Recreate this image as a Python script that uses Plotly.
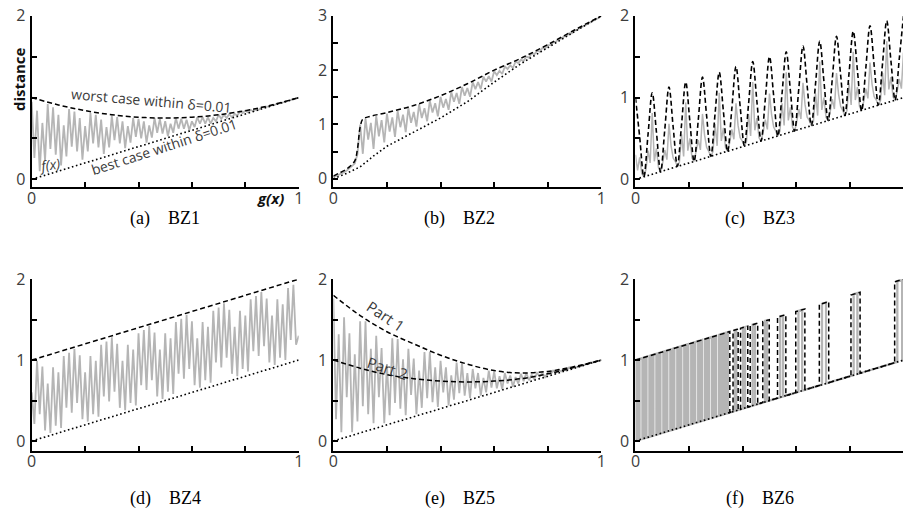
import plotly.graph_objects as go

# ---------------- data ----------------
grid101 = [i / 100 for i in range(101)]
env_x = [0.0, 0.1, 0.2, 0.3, 0.4, 0.5, 0.6, 0.7, 0.8, 0.9, 1.0]
line_x = [0.0, 1.0]

# (a) BZ1
bz1_worst = [1.00, 0.91, 0.84, 0.79, 0.76, 0.75, 0.76, 0.79, 0.84, 0.91, 1.00]
bz1_best = [0.0, 1.0]
bz1_f = [0.95, 0.26, 0.84, 0.10, 0.69, 0.23, 0.92, 0.37, 0.88, 0.30,
         0.79, 0.17, 0.66, 0.28, 0.86, 0.40, 0.83, 0.34, 0.75, 0.24,
         0.65, 0.34, 0.81, 0.44, 0.79, 0.39, 0.73, 0.31, 0.64, 0.39,
         0.78, 0.48, 0.76, 0.44, 0.71, 0.38, 0.65, 0.45, 0.75, 0.52,
         0.74, 0.50, 0.71, 0.45, 0.66, 0.51, 0.75, 0.57, 0.74, 0.56,
         0.71, 0.53, 0.68, 0.57, 0.75, 0.62, 0.74, 0.62, 0.73, 0.60,
         0.71, 0.64, 0.76, 0.68, 0.76, 0.68, 0.76, 0.68, 0.75, 0.71,
         0.79, 0.74, 0.79, 0.75, 0.80, 0.76, 0.80, 0.78, 0.83, 0.81,
         0.84, 0.82, 0.85, 0.83, 0.86, 0.85, 0.88, 0.88, 0.89, 0.89,
         0.91, 0.91, 0.93, 0.93, 0.94, 0.95, 0.96, 0.97, 0.98, 0.99, 1.00]

# (b) BZ2
bz2_worst_x = [0, 0.02, 0.04, 0.06, 0.08, 0.09, 0.10, 0.11, 0.13, 0.2, 0.3, 0.4, 0.5, 0.6, 0.7, 0.8, 0.9, 1.0]
bz2_worst = [0.05, 0.10, 0.15, 0.22, 0.33, 0.55, 0.95, 1.10, 1.14, 1.22, 1.35, 1.53, 1.75, 2.00, 2.22, 2.47, 2.74, 3.00]
bz2_best_x = [0, 0.05, 0.1, 0.15, 0.2, 0.3, 0.4, 0.5, 0.6, 0.7, 0.8, 0.9, 1.0]
bz2_best = [0.0, 0.10, 0.22, 0.42, 0.60, 0.86, 1.12, 1.42, 1.78, 2.12, 2.42, 2.71, 3.00]
bz2_f = [0.03, 0.05, 0.07, 0.09, 0.12, 0.15, 0.19, 0.23, 0.28, 0.45,
         1.00, 0.46, 1.11, 0.72, 1.03, 0.55, 1.16, 0.78, 1.08, 0.67,
         1.20, 0.87, 1.13, 0.77, 1.25, 0.95, 1.18, 0.86, 1.30, 1.03,
         1.23, 0.96, 1.37, 1.12, 1.30, 1.06, 1.44, 1.22, 1.39, 1.15,
         1.51, 1.31, 1.47, 1.27, 1.60, 1.42, 1.58, 1.38, 1.69, 1.53,
         1.67, 1.51, 1.78, 1.65, 1.78, 1.65, 1.88, 1.79, 1.89, 1.79,
         1.98, 1.91, 1.99, 1.93, 2.07, 2.02, 2.09, 2.04, 2.16, 2.13,
         2.19, 2.17, 2.25, 2.23, 2.31, 2.29, 2.36, 2.34, 2.41, 2.40,
         2.46, 2.46, 2.51, 2.52, 2.57, 2.58, 2.62, 2.63, 2.68, 2.68,
         2.73, 2.74, 2.78, 2.80, 2.83, 2.85, 2.89, 2.91, 2.94, 2.96, 3.00]

# (c) BZ3
bz3_worst_x = [k / 64 for k in range(65)]
bz3_worst = [1.00, 0.52, 0.03, 0.55, 1.06, 0.58, 0.09, 0.61, 1.13, 0.64, 0.16, 0.67,
             1.19, 0.70, 0.22, 0.73, 1.25, 0.77, 0.28, 0.80, 1.31, 0.83, 0.34, 0.86,
             1.38, 0.89, 0.41, 0.92, 1.44, 0.95, 0.47, 0.98, 1.50, 1.02, 0.53, 1.05,
             1.56, 1.08, 0.59, 1.11, 1.63, 1.14, 0.66, 1.17, 1.69, 1.20, 0.72, 1.23,
             1.75, 1.27, 0.78, 1.30, 1.81, 1.33, 0.84, 1.36, 1.88, 1.39, 0.91, 1.42,
             1.94, 1.45, 0.97, 1.48, 2.00]
bz3_best = [0.0, 1.0]
bz3_f_x = [k / 128 for k in range(129)]
bz3_f = [0.30, 0.11, 0.27, 0.07, 0.03, 0.12, 0.35, 0.20,
         0.81, 0.22, 0.38, 0.14, 0.09, 0.20, 0.36, 0.24,
         0.68, 0.41, 0.26, 0.22, 0.16, 0.21, 0.55, 0.28,
         0.94, 0.35, 0.50, 0.26, 0.22, 0.33, 0.48, 0.36,
         0.80, 0.54, 0.39, 0.34, 0.28, 0.34, 0.68, 0.41,
         1.06, 0.47, 0.63, 0.39, 0.34, 0.45, 0.61, 0.49,
         0.93, 0.66, 0.51, 0.47, 0.41, 0.46, 0.80, 0.53,
         1.19, 0.60, 0.75, 0.51, 0.47, 0.58, 0.73, 0.61,
         1.05, 0.79, 0.64, 0.59, 0.53, 0.59, 0.93, 0.66,
         1.31, 0.72, 0.88, 0.64, 0.59, 0.70, 0.86, 0.74,
         1.18, 0.91, 0.76, 0.72, 0.66, 0.71, 1.05, 0.78,
         1.44, 0.85, 1.00, 0.76, 0.72, 0.83, 0.98, 0.86,
         1.30, 1.04, 0.89, 0.84, 0.78, 0.84, 1.18, 0.91,
         1.56, 0.97, 1.13, 0.89, 0.84, 0.95, 1.11, 0.99,
         1.43, 1.16, 1.01, 0.97, 0.91, 0.96, 1.30, 1.03,
         1.69, 1.10, 1.25, 1.01, 0.97, 1.08, 1.23, 1.11,
         1.55]

# (d) BZ4
bz4_worst = [1.0, 2.0]
bz4_best = [0.0, 1.0]
bz4_f = [0.60, 0.21, 0.99, 0.33, 0.92, 0.13, 0.71, 0.10, 0.91, 0.19,
         0.85, 0.16, 1.05, 0.41, 1.09, 0.35, 1.14, 0.47, 1.06, 0.27,
         0.85, 0.24, 1.05, 0.33, 0.99, 0.30, 1.19, 0.55, 1.23, 0.49,
         1.28, 0.61, 1.20, 0.41, 0.99, 0.38, 1.19, 0.47, 1.13, 0.44,
         1.33, 0.69, 1.37, 0.63, 1.42, 0.75, 1.34, 0.55, 1.13, 0.52,
         1.33, 0.61, 1.27, 0.58, 1.47, 0.83, 1.51, 0.77, 1.56, 0.89,
         1.48, 0.69, 1.27, 0.66, 1.47, 0.75, 1.41, 0.72, 1.61, 0.97,
         1.65, 0.91, 1.70, 1.03, 1.62, 0.83, 1.41, 0.80, 1.61, 0.89,
         1.55, 0.86, 1.75, 1.11, 1.79, 1.05, 1.84, 1.17, 1.76, 0.97,
         1.55, 0.94, 1.75, 1.03, 1.69, 1.00, 1.89, 1.25, 1.93, 1.19, 1.30]

# (e) BZ5
bz5_part1 = [1.80, 1.55, 1.35, 1.20, 1.06, 0.95, 0.87, 0.84, 0.86, 0.92, 1.00]
bz5_part2 = [1.00, 0.90, 0.82, 0.77, 0.74, 0.73, 0.74, 0.77, 0.83, 0.91, 1.00]
bz5_best = [0.0, 1.0]
bz5_f = [1.76, 0.27, 1.32, 0.11, 1.53, 0.54, 1.33, 0.11, 1.07, 0.24,
         1.48, 0.43, 1.48, 0.33, 1.14, 0.22, 1.30, 0.54, 1.15, 0.22,
         0.95, 0.32, 1.27, 0.47, 1.26, 0.40, 1.01, 0.32, 1.14, 0.57,
         1.02, 0.33, 0.87, 0.41, 1.10, 0.53, 1.10, 0.48, 0.91, 0.42,
         0.99, 0.60, 0.91, 0.44, 0.81, 0.51, 0.97, 0.59, 0.96, 0.56,
         0.84, 0.53, 0.89, 0.65, 0.84, 0.56, 0.78, 0.60, 0.87, 0.66,
         0.86, 0.65, 0.80, 0.64, 0.84, 0.71, 0.81, 0.67, 0.79, 0.71,
         0.83, 0.74, 0.84, 0.75, 0.82, 0.76, 0.84, 0.80, 0.84, 0.79,
         0.84, 0.82, 0.87, 0.84, 0.88, 0.86, 0.89, 0.87, 0.91, 0.90,
         0.92, 0.91, 0.93, 0.93, 0.95, 0.95, 0.97, 0.97, 0.98, 0.99, 1.00]

# (f) BZ6
bz6_worst_x = [0.0, 0.352, 0.352, 0.364, 0.364, 0.383, 0.383, 0.392, 0.392, 0.419, 0.419,
               0.428, 0.428, 0.456, 0.456, 0.475, 0.475, 0.499, 0.499, 0.530, 0.530,
               0.561, 0.561, 0.598, 0.598, 0.632, 0.632, 0.686, 0.686, 0.721, 0.721,
               0.804, 0.804, 0.838, 0.838, 0.967, 0.967, 1.0]
bz6_worst = [1.0, 1.352, 0.352, 0.364, 1.364, 1.383, 0.383, 0.392, 1.392, 1.419, 0.419,
             0.428, 1.428, 1.456, 0.456, 0.475, 1.475, 1.499, 0.499, 0.530, 1.530,
             1.561, 0.561, 0.598, 1.598, 1.632, 0.632, 0.686, 1.686, 1.721, 0.721,
             0.804, 1.804, 1.838, 0.838, 0.967, 1.967, 2.0]
bz6_best = [0.0, 1.0]
bz6_f_x = [0.000, 0.000, 0.008, 0.008, 0.015, 0.015, 0.026, 0.026, 0.034, 0.034,
           0.041, 0.041, 0.052, 0.052, 0.060, 0.060, 0.067, 0.067, 0.078, 0.078,
           0.086, 0.086, 0.093, 0.093, 0.104, 0.104, 0.112, 0.112, 0.119, 0.119,
           0.130, 0.130, 0.138, 0.138, 0.145, 0.145, 0.156, 0.156, 0.164, 0.164,
           0.171, 0.171, 0.182, 0.182, 0.190, 0.190, 0.197, 0.197, 0.208, 0.208,
           0.216, 0.216, 0.223, 0.223, 0.234, 0.234, 0.242, 0.242, 0.249, 0.249,
           0.260, 0.260, 0.268, 0.268, 0.275, 0.275, 0.286, 0.286, 0.294, 0.294,
           0.301, 0.301, 0.312, 0.312, 0.320, 0.320, 0.327, 0.327, 0.333, 0.333,
           0.340, 0.340, 0.345, 0.345, 0.371, 0.371, 0.376, 0.376,
           0.401, 0.401, 0.409, 0.409, 0.437, 0.437, 0.446, 0.446,
           0.483, 0.483, 0.491, 0.491, 0.540, 0.540, 0.551, 0.551,
           0.608, 0.608, 0.622, 0.622, 0.696, 0.696, 0.711, 0.711,
           0.814, 0.814, 0.828, 0.828, 0.977, 0.977, 0.995, 0.995, 1.000]
bz6_f = [0.000, 1.000, 1.008, 0.008, 0.015, 1.015, 1.026, 0.026, 0.034, 1.034,
         1.041, 0.041, 0.052, 1.052, 1.060, 0.060, 0.067, 1.067, 1.078, 0.078,
         0.086, 1.086, 1.093, 0.093, 0.104, 1.104, 1.112, 0.112, 0.119, 1.119,
         1.130, 0.130, 0.138, 1.138, 1.145, 0.145, 0.156, 1.156, 1.164, 0.164,
         0.171, 1.171, 1.182, 0.182, 0.190, 1.190, 1.197, 0.197, 0.208, 1.208,
         1.216, 0.216, 0.223, 1.223, 1.234, 0.234, 0.242, 1.242, 1.249, 0.249,
         0.260, 1.260, 1.268, 0.268, 0.275, 1.275, 1.286, 0.286, 0.294, 1.294,
         1.301, 0.301, 0.312, 1.312, 1.320, 0.320, 0.327, 1.327, 1.333, 0.333,
         0.340, 1.340, 1.345, 0.345, 0.371, 1.371, 1.376, 0.376,
         0.401, 1.401, 1.409, 0.409, 0.437, 1.437, 1.446, 0.446,
         0.483, 1.483, 1.491, 0.491, 0.540, 1.540, 1.551, 0.551,
         0.608, 1.608, 1.622, 0.622, 0.696, 1.696, 1.711, 0.711,
         0.814, 1.814, 1.828, 0.828, 0.977, 1.977, 1.995, 0.995, 1.000]

NB = "\u00a0" * 4
captions = ["(a)" + NB + "BZ1", "(b)" + NB + "BZ2", "(c)" + NB + "BZ3",
            "(d)" + NB + "BZ4", "(e)" + NB + "BZ5", "(f)" + NB + "BZ6"]
y_ticks_2 = [0, 0.5, 1, 1.5, 2]
y_ticks_3 = [0, 0.5, 1, 1.5, 2, 2.5, 3]
x_ticks = [0, 0.2, 0.4, 0.6, 0.8, 1.0]

# ---------------- styling ----------------
W, H = 908, 520
GRAY = "#b5b5b5"
DASH = "5px,3px"
DOT = "1.6px,2.6px"


def px(x):
    return x / W


def py(y):
    return 1 - y / H


fig = go.Figure()


def gray(x, y, n, width=1.8):
    fig.add_trace(go.Scatter(x=x, y=y, mode="lines", xaxis="x%d" % n, yaxis="y%d" % n,
                             line=dict(color=GRAY, width=width), hoverinfo="skip"))


def dashed(x, y, n, spline=False, width=1.5):
    fig.add_trace(go.Scatter(x=x, y=y, mode="lines", xaxis="x%d" % n, yaxis="y%d" % n,
                             line=dict(color="black", width=width, dash=DASH,
                                       shape="spline" if spline else "linear", smoothing=1.0),
                             hoverinfo="skip"))


def dotted(x, y, n):
    fig.add_trace(go.Scatter(x=x, y=y, mode="lines", xaxis="x%d" % n, yaxis="y%d" % n,
                             line=dict(color="black", width=1.6, dash=DOT), hoverinfo="skip"))


# (a)
gray(grid101, bz1_f, 1)
dashed(env_x, bz1_worst, 1, spline=True)
dotted(line_x, bz1_best, 1)
# (b)
gray(grid101, bz2_f, 2)
dashed(bz2_worst_x, bz2_worst, 2, spline=True)
dotted(bz2_best_x, bz2_best, 2)
# (c)
gray(bz3_f_x, bz3_f, 3, width=1.5)
dashed(bz3_worst_x, bz3_worst, 3, spline=True, width=1.6)
dotted(line_x, bz3_best, 3)
# (d)
gray(grid101, bz4_f, 4)
dashed(line_x, bz4_worst, 4)
dotted(line_x, bz4_best, 4)
# (e)
gray(grid101, bz5_f, 5)
dashed(env_x, bz5_part1, 5, spline=True)
dashed(env_x, bz5_part2, 5, spline=True)
dotted(line_x, bz5_best, 5)
# (f)
gray(bz6_f_x, bz6_f, 6, width=2.3)
dashed(bz6_worst_x, bz6_worst, 6)
dotted(line_x, bz6_best, 6)

tickfont = dict(family="Open Sans", size=16, color="#3c3c3c")
axis_common = dict(showline=True, linecolor="black", linewidth=2, ticks="inside", ticklen=5,
                   tickwidth=1.5, tickcolor="black", showgrid=False, zeroline=False,
                   tickfont=tickfont, fixedrange=True)

col_dom = [[px(27), px(297)], [px(332), px(603)], [px(637.5), 1.0]]
col_rng = [[0, 1], [0, 1], [0, (W - 637.5) / 271]]
row_dom = [[py(181), py(5)], [py(451), py(275)]]

layout = dict(width=W, height=H, margin=dict(l=0, r=0, t=0, b=0), showlegend=False,
              paper_bgcolor="white", plot_bgcolor="white")
for n in range(1, 7):
    r = 0 if n <= 3 else 1
    c = (n - 1) % 3
    xa = dict(axis_common, domain=col_dom[c], range=col_rng[c], anchor="y%d" % n,
              tickvals=x_ticks, ticktext=["0", "", "", "", "", "1"], ticklabelstandoff=-5)
    if n == 2:
        yr = [-0.16, 3.0]
        tv = y_ticks_3
        tt = ["0", "", "1", "", "2", "", "3"]
    else:
        yr = [-0.1, 2.0] if r == 0 else [-0.12, 2.0]
        tv = y_ticks_2
        tt = ["0", "", "", "", "2"] if n == 1 else ["0", "", "1", "", "2"]
    ya = dict(axis_common, domain=row_dom[r], range=yr, anchor="x%d" % n,
              tickvals=tv, ticktext=tt, ticklabelstandoff=1)
    layout["xaxis" if n == 1 else "xaxis%d" % n] = xa
    layout["yaxis" if n == 1 else "yaxis%d" % n] = ya

fig.update_layout(**layout)

ann = []
cap_pos = [(162, 213), (460, 213), (763, 213), (162, 500), (460, 500), (763, 500)]
for text, (cx, cy) in zip(captions, cap_pos):
    ann.append(dict(x=px(cx), y=py(cy), xref="paper", yref="paper", text=text, showarrow=False,
                    xanchor="center", yanchor="middle",
                    font=dict(family="Liberation Serif", size=18, color="black")))

lab = dict(family="Open Sans", size=14, color="#3a3a3a")
extra = [
    dict(x=px(14), y=py(70), text="<b>distance</b>", textangle=-90,
         font=dict(family="Open Sans", size=15, color="#111111")),
    dict(x=px(268), y=py(192), text="<b><i>g(x)</i></b>",
         font=dict(family="Open Sans", size=15, color="#111111")),
    dict(x=px(148), y=py(92), text="worst case within δ=0.01", textangle=5, font=lab),
    dict(x=px(161), y=py(139), text="best case within δ=0.01", textangle=-18, font=lab),
    dict(x=px(45), y=py(157), text="<i>f(x)</i>", textangle=-8, font=lab),
    dict(x=px(385), y=py(313), text="Part 1", textangle=34, font=dict(lab, size=15)),
    dict(x=px(387), y=py(366), text="Part 2", textangle=18, font=dict(lab, size=15)),
]
for a in extra:
    a.update(xref="paper", yref="paper", showarrow=False, xanchor="center", yanchor="middle")
ann += extra

fig.update_layout(annotations=ann)
fig.write_html("out.html")
